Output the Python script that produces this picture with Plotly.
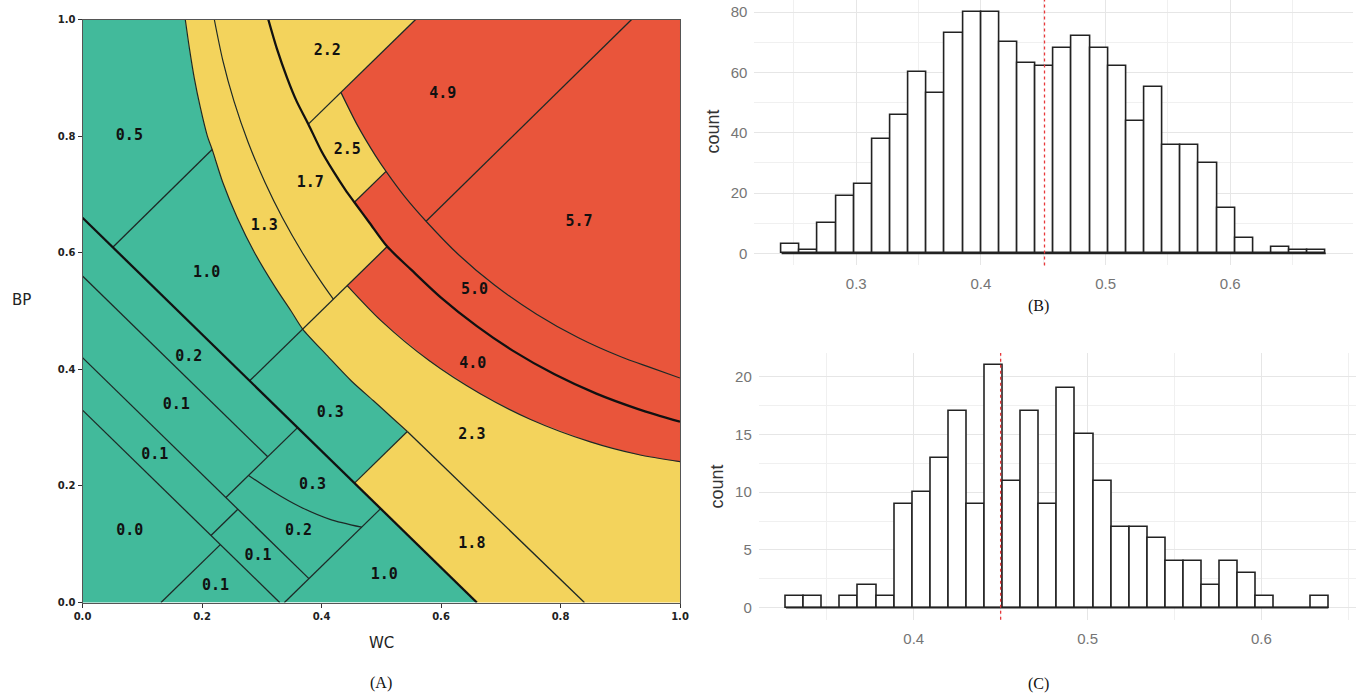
import numpy as np
import plotly.graph_objects as go

GREEN = "#42BA9B"
YELLOW = "#F3D35C"
RED = "#E9553B"
EDGE = "#1d2926"

# ---------------- Panel A : partition of (WC, BP) ----------------
# curve pieces (WC, BP), split at the junctions
C1_top = [(0.172, 1.0), (0.179, 0.95), (0.187, 0.90), (0.197, 0.85), (0.209, 0.80), (0.217, 0.777)]
C1_mid = [(0.217, 0.777), (0.235, 0.72), (0.259, 0.66), (0.288, 0.60), (0.323, 0.54), (0.349, 0.50), (0.3685, 0.469)]
C1_low = [(0.3685, 0.469), (0.41, 0.423), (0.45, 0.380), (0.487, 0.346), (0.515, 0.320), (0.5436, 0.2933)]
C2 = [(0.2206, 1.0), (0.2348, 0.93), (0.2535, 0.86), (0.277, 0.79), (0.3057, 0.72), (0.3346, 0.66),
      (0.368, 0.60), (0.3994, 0.55), (0.4198, 0.5203)]
C3_a = [(0.311, 1.0), (0.3253, 0.95), (0.3424, 0.90), (0.3583, 0.86), (0.378, 0.8205)]
C3_b = [(0.378, 0.8205), (0.40, 0.774), (0.42, 0.7394), (0.44, 0.7078), (0.455, 0.6865)]
C3_c = [(0.455, 0.6865), (0.48, 0.6518), (0.51, 0.6105)]
C3_d = [(0.51, 0.6105), (0.55, 0.5709), (0.60, 0.523), (0.66, 0.474), (0.72, 0.432), (0.79, 0.3914),
        (0.86, 0.3583), (0.93, 0.3318), (1.0, 0.310)]
C4_a = [(0.4325, 0.875), (0.46, 0.8188), (0.49, 0.767), (0.508, 0.7395)]
C4_b = [(0.508, 0.7395), (0.54, 0.6953), (0.575, 0.654)]
C4_c = [(0.575, 0.654), (0.63, 0.596), (0.69, 0.5441), (0.76, 0.4944), (0.83, 0.4541), (0.90, 0.4219),
        (0.95, 0.4032), (1.0, 0.385)]
C5 = [(0.443, 0.5435), (0.50, 0.483), (0.58, 0.415), (0.665, 0.3585), (0.75, 0.314), (0.85, 0.2755),
      (0.93, 0.2538), (1.0, 0.2415)]
C03 = [(0.278, 0.218), (0.3194, 0.190), (0.364, 0.1643), (0.4142, 0.1427), (0.4672, 0.1292)]

# straight boundaries
D66 = [(0.0, 0.66), (0.66, 0.0)]
S1 = [(0.0507, 0.6093), (0.217, 0.777)]
S2 = [(0.2798, 0.3802), (0.51, 0.6105)]
S3 = [(0.378, 0.8205), (0.5575, 1.0)]
S4 = [(0.455, 0.6865), (0.508, 0.7395)]
S5 = [(0.575, 0.654), (0.919, 1.0)]
S6 = [(0.4552, 0.2048), (0.5436, 0.2933)]
L84 = [(0.5436, 0.2933), (0.84, 0.0)]
L56 = [(0.0, 0.56), (0.31, 0.25)]
L42 = [(0.0, 0.42), (0.379, 0.041)]
L33 = [(0.0, 0.33), (0.33, 0.0)]
XA = [(0.36, 0.30), (0.24, 0.18)]
XB = [(0.499, 0.161), (0.338, 0.0)]
XE = [(0.215, 0.115), (0.26, 0.16)]
XD = [(0.1314, 0.0), (0.2307, 0.0993)]


def rev(p):
    return p[::-1]


regions = [
    # green
    (GREEN, [(0, 1)] + C1_top + [S1[0], (0, 0.66)]),
    (GREEN, [S1[0]] + C1_mid + [S2[0]]),
    (GREEN, [S2[0]] + C1_low + [S6[0]]),
    (GREEN, [(0, 0.66), XA[0], (0.31, 0.25), (0, 0.56)]),
    (GREEN, [(0, 0.56), (0.31, 0.25), (0.24, 0.18), (0, 0.42)]),
    (GREEN, [(0, 0.42), (0.26, 0.16), (0.215, 0.115), (0, 0.33)]),
    (GREEN, [(0, 0.33), (0.2307, 0.0993), (0.1314, 0), (0, 0)]),
    (GREEN, [(0.1314, 0), (0.2307, 0.0993), (0.33, 0)]),
    (GREEN, [(0.215, 0.115), (0.26, 0.16), (0.379, 0.041), (0.338, 0), (0.33, 0)]),
    (GREEN, [XA[0], XB[0]] + rev(C03)),
    (GREEN, C03 + [(0.379, 0.041), (0.24, 0.18)]),
    (GREEN, [(0.338, 0), XB[0], (0.66, 0)]),
    # yellow
    (YELLOW, [(0.172, 1.0)] + C2 + rev(C1_mid) + rev(C1_top)),
    (YELLOW, [(0.2206, 1.0)] + C3_a + C3_b + C3_c + rev(C2)),
    (YELLOW, [(0.311, 1.0), (0.5575, 1.0)] + rev(C3_a)),
    (YELLOW, [(0.378, 0.8205)] + C4_a + rev(C3_b)),
    (YELLOW, [(0.3685, 0.469)] + C5 + [(1, 0), (0.84, 0)] + rev(C1_low)),
    (YELLOW, [S6[0], (0.5436, 0.2933), (0.84, 0), (0.66, 0)]),
    # red
    (RED, C4_a + C4_b + [(0.919, 1.0), (0.5575, 1.0)]),
    (RED, C4_c + [(1, 1), (0.919, 1.0)]),
    (RED, [(0.455, 0.6865)] + C4_b + C4_c + rev(C3_d) + rev(C3_c)),
    (RED, [(0.443, 0.5435)] + C3_d + rev(C5)),
]

lab_vals = ["0.5", "1.0", "0.2", "0.1", "0.1", "0.0", "0.1", "0.1", "0.2", "0.3", "0.3", "1.0",
            "1.3", "1.7", "2.2", "2.5", "4.9", "5.7", "5.0", "4.0", "2.3", "1.8"]
lab_x = [0.0785, 0.2078, 0.178, 0.157, 0.121, 0.079, 0.2227, 0.2937, 0.3617, 0.385, 0.4148, 0.5052,
         0.3042, 0.3812, 0.4096, 0.4432, 0.6031, 0.8311, 0.6562, 0.6532, 0.6517, 0.6517]
lab_y = [0.800, 0.565, 0.421, 0.338, 0.253, 0.1217, 0.0284, 0.080, 0.1217, 0.2013, 0.3249, 0.0459,
         0.6448, 0.7191, 0.945, 0.776, 0.871, 0.6525, 0.535, 0.408, 0.287, 0.0997]

# ---------------- Panel B histogram ----------------
b_start = 0.2401
b_width = 0.01455
b_counts = [3, 1, 10, 19, 23, 38, 46, 60, 53, 73, 80, 80, 70, 63, 62, 68, 72, 68, 62, 44,
            55, 36, 36, 30, 15, 5, 0, 2, 1, 1]
b_mean = 0.451

# ---------------- Panel C histogram ----------------
c_start = 0.3265
c_width = 0.0104
c_counts = [1, 1, 0, 1, 2, 1, 9, 10, 13, 17, 9, 21, 11, 17, 9, 19, 15, 11, 7, 7,
            6, 4, 4, 2, 4, 3, 1, 0, 0, 1]
c_mean = 0.45

fig = go.Figure()


def xy(pts):
    return [p[0] for p in pts], [p[1] for p in pts]


for col, pts in regions:
    px, py = xy(pts)
    fig.add_trace(go.Scatter(x=px, y=py, fill="toself", fillcolor=col, mode="lines",
                             line=dict(color=col, width=0.6), hoverinfo="skip",
                             showlegend=False, xaxis="x", yaxis="y"))

thin_straight = [S1, S2, S3, S4, S5, S6, L84, L56, L42, L33, XA, XB, XE, XD]
for seg in thin_straight:
    px, py = xy(seg)
    fig.add_trace(go.Scatter(x=px, y=py, mode="lines", line=dict(color=EDGE, width=1.3),
                             hoverinfo="skip", showlegend=False, xaxis="x", yaxis="y"))

thin_curves = [C1_top + C1_mid[1:] + C1_low[1:], C2, C4_a + C4_b[1:] + C4_c[1:], C5, C03]
for cv in thin_curves:
    px, py = xy(cv)
    fig.add_trace(go.Scatter(x=px, y=py, mode="lines",
                             line=dict(color=EDGE, width=1.2, shape="spline", smoothing=0.8),
                             hoverinfo="skip", showlegend=False, xaxis="x", yaxis="y"))

px, py = xy(D66)
fig.add_trace(go.Scatter(x=px, y=py, mode="lines", line=dict(color="#111", width=2.3),
                         hoverinfo="skip", showlegend=False, xaxis="x", yaxis="y"))
px, py = xy(C3_a + C3_b[1:] + C3_c[1:] + C3_d[1:])
fig.add_trace(go.Scatter(x=px, y=py, mode="lines",
                         line=dict(color="#111", width=2.3, shape="spline", smoothing=0.8),
                         hoverinfo="skip", showlegend=False, xaxis="x", yaxis="y"))

fig.add_trace(go.Scatter(x=lab_x, y=lab_y, mode="text", text=lab_vals,
                         textfont=dict(family="DejaVu Sans Mono", size=15, color="#111", weight="bold"),
                         hoverinfo="skip", showlegend=False, xaxis="x", yaxis="y"))


# histograms
def add_hist(start, width, counts, xa, ya):
    n = len(counts)
    centers = start + width * (np.arange(n) + 0.5)
    fig.add_trace(go.Bar(x=centers, y=counts, width=width, marker=dict(color="white",
                         line=dict(color="#222", width=1.6)), hoverinfo="skip",
                         showlegend=False, xaxis=xa, yaxis=ya))
    fig.add_trace(go.Scatter(x=[start, start + width * n], y=[0, 0], mode="lines",
                             line=dict(color="#222", width=1.6), hoverinfo="skip",
                             showlegend=False, xaxis=xa, yaxis=ya))


add_hist(b_start, b_width, b_counts, "x2", "y2")
add_hist(c_start, c_width, c_counts, "x3", "y3")

fig.add_shape(type="line", xref="x2", yref="y2 domain", x0=b_mean, x1=b_mean, y0=0, y1=1,
              line=dict(color="#e8383b", width=1.3, dash="dot"))
fig.add_shape(type="line", xref="x3", yref="y3 domain", x0=c_mean, x1=c_mean, y0=0, y1=1,
              line=dict(color="#e8383b", width=1.3, dash="dot"))

W, H = 1357, 693
tickA = dict(family="DejaVu Sans", size=10, color="#222", weight="bold")
hist_tick = dict(family="Liberation Sans", size=15, color="#757575")
grid_major = "#e6e6e6"
grid_minor = "#f0f0f0"

fig.update_layout(
    width=W, height=H, margin=dict(l=0, r=0, t=0, b=0, autoexpand=False),
    paper_bgcolor="white", plot_bgcolor="white", bargap=0,
    xaxis=dict(domain=[82.5 / W, 680 / W], range=[0, 1], anchor="y", automargin=False,
               tickvals=[0, 0.2, 0.4, 0.6, 0.8, 1.0], ticktext=["0.0", "0.2", "0.4", "0.6", "0.8", "1.0"],
               ticks="outside", ticklen=4, tickcolor="#333", showgrid=False, zeroline=False,
               showline=True, mirror=True, linecolor="#555", linewidth=1, tickfont=tickA),
    yaxis=dict(domain=[(H - 602.5) / H, (H - 19.5) / H], range=[0, 1], anchor="x", automargin=False,
               tickvals=[0, 0.2, 0.4, 0.6, 0.8, 1.0], ticktext=["0.0", "0.2", "0.4", "0.6", "0.8", "1.0"],
               ticks="outside", ticklen=4, tickcolor="#333", showgrid=False, zeroline=False,
               showline=True, mirror=True, linecolor="#555", linewidth=1, tickfont=tickA),
    xaxis2=dict(domain=[754.4 / W, 1352.7 / W], range=[0.2183, 0.6982], anchor="y2", automargin=False,
                tickvals=[0.3, 0.4, 0.5, 0.6], ticks="", showline=False, zeroline=False,
                showgrid=True, gridcolor=grid_major, gridwidth=1.2, tickfont=hist_tick,
                ticklabelstandoff=8,
                minor=dict(tickvals=[0.25, 0.35, 0.45, 0.55, 0.65], showgrid=True,
                           gridcolor=grid_minor, gridwidth=1)),
    yaxis2=dict(domain=[(H - 265.4) / H, 1.0], range=[-4, 84], anchor="x2", automargin=False,
                tickvals=[0, 20, 40, 60, 80], ticks="", showline=False, zeroline=False,
                showgrid=True, gridcolor=grid_major, gridwidth=1.2, tickfont=hist_tick,
                ticklabelstandoff=6,
                minor=dict(tickvals=[10, 30, 50, 70], showgrid=True, gridcolor=grid_minor, gridwidth=1)),
    xaxis3=dict(domain=[758.8 / W, 1355.5 / W], range=[0.3109, 0.6541], anchor="y3", automargin=False,
                tickvals=[0.4, 0.5, 0.6], ticks="", showline=False, zeroline=False,
                showgrid=True, gridcolor=grid_major, gridwidth=1.2, tickfont=hist_tick,
                ticklabelstandoff=8,
                minor=dict(tickvals=[0.35, 0.45, 0.55, 0.65], showgrid=True,
                           gridcolor=grid_minor, gridwidth=1)),
    yaxis3=dict(domain=[(H - 619.8) / H, (H - 353) / H], range=[-1.05, 22.05], anchor="x3", automargin=False,
                tickvals=[0, 5, 10, 15, 20], ticks="", showline=False, zeroline=False,
                showgrid=True, gridcolor=grid_major, gridwidth=1.2, tickfont=hist_tick,
                ticklabelstandoff=6,
                minor=dict(tickvals=[2.5, 7.5, 12.5, 17.5], showgrid=True,
                           gridcolor=grid_minor, gridwidth=1)),
)

ann = [
    dict(text="WC", x=381 / W, y=(H - 643) / H, font=dict(family="DejaVu Sans", size=15, color="#222")),
    dict(text="BP", x=21 / W, y=(H - 300) / H, font=dict(family="DejaVu Sans", size=15, color="#222")),
    dict(text="(A)", x=381 / W, y=(H - 683) / H, font=dict(family="Liberation Serif", size=16, color="#111")),
    dict(text="(B)", x=1038.5 / W, y=(H - 306) / H, font=dict(family="Liberation Serif", size=16, color="#111")),
    dict(text="(C)", x=1038.5 / W, y=(H - 684) / H, font=dict(family="Liberation Serif", size=16, color="#111")),
    dict(text="count", x=712.6 / W, y=(H - 132) / H, textangle=-90,
         font=dict(family="Liberation Sans", size=18, color="#333")),
    dict(text="count", x=716.8 / W, y=(H - 486.7) / H, textangle=-90,
         font=dict(family="Liberation Sans", size=18, color="#333")),
]
for a in ann:
    fig.add_annotation(xref="paper", yref="paper", showarrow=False, xanchor="center", yanchor="middle", **a)

fig.write_html(
    "out.html",
    config={"displayModeBar": False},
    post_script="document.body.style.margin='0px';document.body.style.padding='0px';"
                "document.body.style.overflow='hidden';",
)
